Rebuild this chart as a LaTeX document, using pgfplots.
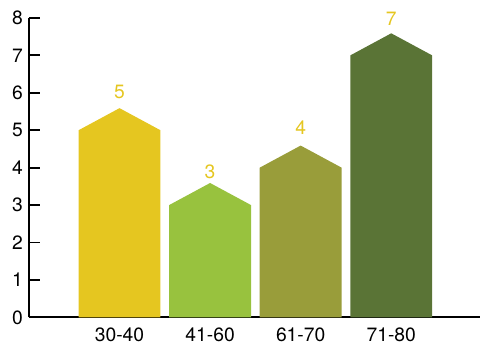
\documentclass[border=0pt]{standalone}
\usepackage{pgfplots}
\pgfplotsset{compat=1.18}
\usepackage{fontspec}
\setmainfont{TeX Gyre Heros}
\definecolor{cA}{HTML}{E5C620}
\definecolor{cB}{HTML}{98C23E}
\definecolor{cC}{HTML}{999D3A}
\definecolor{cD}{HTML}{5A7436}
\begin{document}
\begin{tikzpicture}
\begin{axis}[
  scale only axis,
  width=339pt, height=225pt,
  xmin=0, xmax=4.98, ymin=0, ymax=8,
  axis x line=bottom, axis y line=left,
  axis line style={line width=1.5pt, -},
  xtick={1,2,3,4},
  xticklabels={30-40,41-60,61-70,71-80},
  x tick style={draw=none},
  ytick={0,...,8},
  ytick align=inside,
  major tick length=8.25pt,
  y tick style={line width=1.5pt, black},
  tick label style={font=\fontsize{14.5}{16}\selectfont},
  /pgf/number format/assume math mode=true,
  xticklabel style={yshift=-0.5pt},
  yticklabel style={xshift=-1pt},
  clip=false,
]
\addplot[fill=cA, draw=none] coordinates {(0.548,0) (0.548,5) (1,5.59) (1.452,5) (1.452,0)} -- cycle;
\addplot[fill=cB, draw=none] coordinates {(1.548,0) (1.548,3) (2,3.59) (2.452,3) (2.452,0)} -- cycle;
\addplot[fill=cC, draw=none] coordinates {(2.548,0) (2.548,4) (3,4.59) (3.452,4) (3.452,0)} -- cycle;
\addplot[fill=cD, draw=none] coordinates {(3.548,0) (3.548,7) (4,7.59) (4.452,7) (4.452,0)} -- cycle;
\addplot[draw=none, mark=none, nodes near coords, point meta=explicit symbolic,
  nodes near coords style={anchor=center, text=cA, font=\fontsize{14.5}{16}\selectfont}]
  coordinates {(1,6.01)[5] (2,3.89)[3] (3,5.08)[4] (4,7.97)[7]};
\end{axis}
\path[use as bounding box] ([xshift=-21.75pt,yshift=-21pt]current axis.south west) rectangle ([yshift=13.5pt]current axis.north east);
\end{tikzpicture}
\end{document}
